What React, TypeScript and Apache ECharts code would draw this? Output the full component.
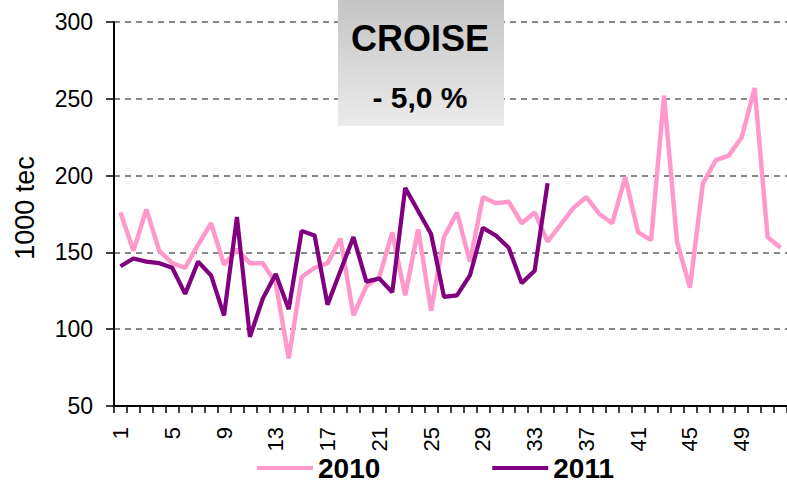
import React, { useEffect, useRef } from "react";
import * as echarts from "echarts";

const weeks = [
  "1", "2", "3", "4", "5", "6", "7", "8", "9", "10", "11", "12", "13",
  "14", "15", "16", "17", "18", "19", "20", "21", "22", "23", "24", "25", "26",
  "27", "28", "29", "30", "31", "32", "33", "34", "35", "36", "37", "38", "39",
  "40", "41", "42", "43", "44", "45", "46", "47", "48", "49", "50", "51", "52",
];

const values2010 = [
  176, 151, 178, 151, 143, 140, 155, 169, 142, 152, 143, 143, 130,
  81, 134, 140, 143, 159, 109, 128, 134, 163, 122, 165, 112, 160,
  176, 144, 186, 182, 183, 169, 176, 157, 168, 179, 186, 175, 169,
  199, 163, 158, 252, 157, 127, 195, 210, 213, 225, 257, 160, 153,
];

const values2011 = [
  141, 146, 144, 143, 140, 123, 144, 135, 109, 173, 95, 120, 136,
  113, 164, 161, 116, 138, 160, 131, 133, 124, 192, 177, 162, 121,
  122, 135, 166, 161, 153, 130, 138, 195,
];

const seriesNames = ["2010", "2011"];
const boxTitle = "CROISE";
const boxValue = "- 5,0 %";
const yAxisTitle = "1000 tec";

const FONT = "'Liberation Sans', Arial, sans-serif";

export default function App() {
  const ref = useRef<HTMLDivElement>(null);

  useEffect(() => {
    if (!ref.current) return;
    const chart = echarts.init(ref.current, undefined, { renderer: "svg" });
    chart.setOption({
      animation: false,
      backgroundColor: "#ffffff",
      textStyle: { fontFamily: FONT },
      grid: { left: 114, top: 22, width: 679, height: 384, containLabel: false },
      legend: {
        data: seriesNames,
        left: 257,
        top: 453,
        icon: "rect",
        itemWidth: 56,
        itemHeight: 4,
        itemGap: 112,
        padding: 0,
        textStyle: {
          fontSize: 28,
          lineHeight: 30,
          fontWeight: "bold",
          color: "#000",
          fontFamily: FONT,
        },
      },
      xAxis: {
        type: "category",
        data: weeks,
        boundaryGap: true,
        axisLine: { show: true, lineStyle: { color: "#000", width: 2 } },
        axisTick: { show: true, interval: 0, length: 7, lineStyle: { color: "#000", width: 1.5 } },
        axisLabel: {
          interval: 3,
          rotate: 90,
          fontSize: 22,
          margin: 21,
          color: "#000",
          fontFamily: FONT,
        },
        splitLine: { show: false },
      },
      yAxis: {
        type: "value",
        min: 50,
        max: 300,
        interval: 50,
        name: yAxisTitle,
        nameLocation: "middle",
        nameRotate: 90,
        nameGap: 76,
        nameTextStyle: { fontSize: 27, color: "#000", fontFamily: FONT, padding: [0, 0, 0, 12] },
        axisLine: { show: true, lineStyle: { color: "#000", width: 2 } },
        axisTick: { show: true, length: 8, lineStyle: { color: "#000", width: 1.5 } },
        axisLabel: { fontSize: 23, margin: 21, color: "#000", fontFamily: FONT },
        splitLine: {
          show: true,
          lineStyle: { color: "#888888", width: 2, type: [6, 5] },
        },
      },
      series: [
        {
          name: seriesNames[0],
          type: "line",
          data: values2010,
          color: "#FF99CC",
          showSymbol: false,
          symbol: "none",
          lineStyle: { color: "#FF99CC", width: 4.5 },
          z: 2,
        },
        {
          name: seriesNames[1],
          type: "line",
          data: values2011,
          color: "#800080",
          showSymbol: false,
          symbol: "none",
          lineStyle: { color: "#800080", width: 4.2 },
          z: 3,
        },
      ],
      graphic: [
        {
          type: "rect",
          z: 100,
          shape: { x: 338, y: -2, width: 166, height: 128 },
          style: {
            fill: new echarts.graphic.LinearGradient(0, 0, 0, 1, [
              { offset: 0, color: "#c4c4c4" },
              { offset: 1, color: "#ebebeb" },
            ]),
          },
        },
        {
          type: "text",
          z: 101,
          x: 420,
          y: 38,
          style: {
            text: boxTitle,
            fontSize: 36,
            fontWeight: "bold",
            fontFamily: FONT,
            fill: "#000",
            align: "center",
            verticalAlign: "middle",
          },
        },
        {
          type: "text",
          z: 101,
          x: 420,
          y: 97,
          style: {
            text: boxValue,
            fontSize: 30,
            fontWeight: "bold",
            fontFamily: FONT,
            fill: "#000",
            align: "center",
            verticalAlign: "middle",
          },
        },
      ],
    });
    return () => chart.dispose();
  }, []);

  return (
    <div
      ref={ref}
      style={{ position: "fixed", left: 0, top: 0, width: 787, height: 487, background: "#fff" }}
    />
  );
}
